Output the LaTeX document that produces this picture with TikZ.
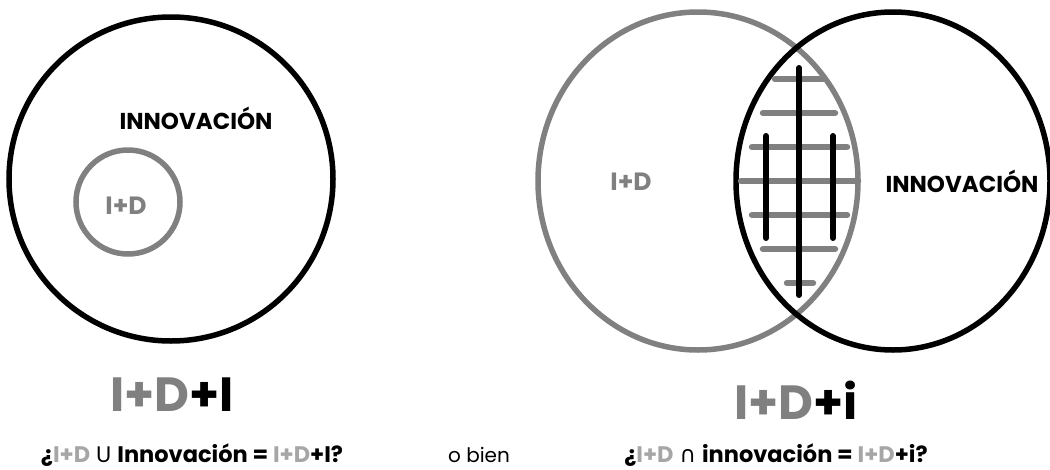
\documentclass[tikz,border=0pt]{standalone}
\usepackage{fontspec}
\setmainfont{Poppins}
\newfontfamily\symfont{DejaVu Sans}
\definecolor{idgray}{HTML}{808080}
\definecolor{idlight}{HTML}{A6A6A6}
\tikzset{
  ring/.style={line width=5.5pt},
  idring/.style={ring, draw=idgray},
  innring/.style={ring, draw=black},
  bar/.style={line width=6.5pt, line cap=round, draw=idgray},
  post/.style={line width=6pt, line cap=round, draw=black},
  tag/.style={font=\bfseries\fontsize{23}{23}\selectfont, inner sep=0pt},
  idtag/.style={font=\bfseries\fontsize{25}{25}\selectfont, inner sep=0pt, text=idgray},
  big/.style={font=\bfseries\fontsize{48}{48}\selectfont, inner sep=0pt},
  caption/.style={font=\fontsize{22.5}{22.5}\selectfont, inner sep=0pt, anchor=base},
}
\begin{document}
\begin{tikzpicture}[x=1pt,y=-1pt]
\useasboundingbox (0,0) rectangle (1050,469);

% left diagram: I+D inside innovation
\draw[innring] (171,179) circle [radius=162];
\draw[idring] (128,202) circle [radius=52];
\node[tag] (innL) at (196,118) {INNOVACIÓN};
\node[idtag] (idL) at (126,206) {I+D};
\node[big] (titleL) at (172,395) {\textcolor{idgray}{I+D}+I};

% right diagram: overlapping sets
\draw[idring] (698,181) ellipse [x radius=160, y radius=169];
\draw[innring] (893,181) ellipse [x radius=157, y radius=169];

% hatching of the intersection
\foreach \y/\a/\b in {79/775/823, 113/763/835, 147/752/847, 181/741/858,
                      215/752/847, 249/763/835, 283/787/813}
  \draw[bar] (\a,\y) -- (\b,\y);
\draw[post] (799,68) -- (799,295);
\draw[post] (766,136) -- (766,238);
\draw[post] (833,136) -- (833,238);

\node[idtag] (idR) at (631,182) {I+D};
\node[tag] (innR) at (962,181) {INNOVACIÓN};
\node[big] (titleR) at (796,400) {\textcolor{idgray}{I+D}+i};

% captions
\node[caption] (capL) at (192,462) {\textbf{¿\textcolor{idlight}{I+D}} U \textbf{Innovación = \textcolor{idlight}{I+D}+I?}};
\node[caption, font=\fontsize{20}{20}\selectfont] (or) at (479,462) {o bien};
\node[caption] (capR) at (776,462) {\textbf{¿\textcolor{idlight}{I+D}} {\symfont ∩} \textbf{innovación = \textcolor{idlight}{I+D}+i?}};
\end{tikzpicture}
\end{document}
